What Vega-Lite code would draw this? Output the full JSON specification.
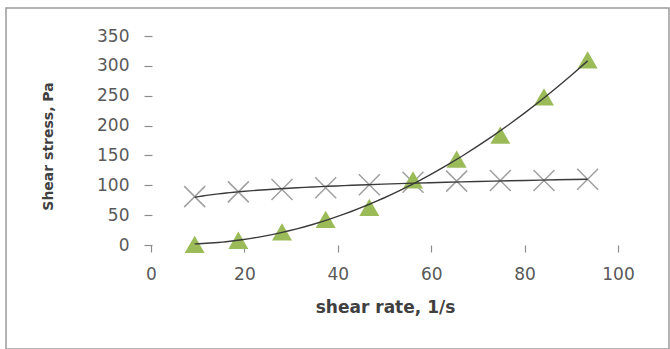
{
  "$schema": "https://vega.github.io/schema/vega-lite/v6.json",
  "width": 663,
  "height": 341,
  "padding": {"left": 6, "top": 8, "right": 1, "bottom": 0},
  "autosize": {"type": "none"},
  "background": "white",
  "config": {
    "view": {"stroke": "#9a9a9a", "strokeWidth": 1.5},
    "font": "DejaVu Sans"
  },
  "datasets": {
    "flow": [
      {"rate": 9.35, "series": "A", "stress": 81},
      {"rate": 18.7, "series": "A", "stress": 89},
      {"rate": 28.05, "series": "A", "stress": 93},
      {"rate": 37.4, "series": "A", "stress": 96},
      {"rate": 46.75, "series": "A", "stress": 101},
      {"rate": 56.1, "series": "A", "stress": 105},
      {"rate": 65.45, "series": "A", "stress": 107},
      {"rate": 74.8, "series": "A", "stress": 108},
      {"rate": 84.15, "series": "A", "stress": 108},
      {"rate": 93.5, "series": "A", "stress": 110},
      {"rate": 9.35, "series": "B", "stress": 1},
      {"rate": 18.7, "series": "B", "stress": 8},
      {"rate": 28.05, "series": "B", "stress": 22},
      {"rate": 37.4, "series": "B", "stress": 43},
      {"rate": 46.75, "series": "B", "stress": 63},
      {"rate": 56.1, "series": "B", "stress": 109},
      {"rate": 65.45, "series": "B", "stress": 144},
      {"rate": 74.8, "series": "B", "stress": 184},
      {"rate": 84.15, "series": "B", "stress": 248},
      {"rate": 93.5, "series": "B", "stress": 310}
    ]
  },
  "data": {"name": "flow"},
  "encoding": {
    "x": {
      "field": "rate",
      "type": "quantitative",
      "scale": {"domain": [-31.05, 110.92], "nice": false, "zero": false},
      "axis": {
        "values": [0, 20, 40, 60, 80, 100],
        "offset": -104,
        "domain": false,
        "grid": false,
        "tickSize": 7,
        "tickColor": "#8c8c8c",
        "tickWidth": 1.2,
        "labelFont": "DejaVu Sans",
        "labelFontSize": 17,
        "labelColor": "#595959",
        "labelBaseline": "middle",
        "labelPadding": 22,
        "labelFlush": false,
        "title": "shear rate, 1/s",
        "titleFont": "DejaVu Sans",
        "titleFontSize": 17,
        "titleFontWeight": "bold",
        "titleColor": "#404040",
        "titleX": 379,
        "titleY": 62,
        "titleAlign": "center",
        "titleBaseline": "middle"
      }
    },
    "y": {
      "field": "stress",
      "type": "quantitative",
      "scale": {"domain": [-174.2, 397], "nice": false, "zero": false},
      "axis": {
        "values": [0, 50, 100, 150, 200, 250, 300, 350],
        "offset": -146,
        "domain": false,
        "grid": false,
        "tickSize": 8,
        "tickColor": "#8c8c8c",
        "tickWidth": 1.2,
        "labelFont": "DejaVu Sans",
        "labelFontSize": 17,
        "labelColor": "#595959",
        "labelPadding": 15,
        "labelFlush": false,
        "title": "Shear stress, Pa",
        "titleFont": "DejaVu Sans",
        "titleFontSize": 14,
        "titleFontWeight": "bold",
        "titleColor": "#404040",
        "titleX": -104,
        "titleY": 138,
        "titleAlign": "center",
        "titleBaseline": "middle"
      }
    }
  },
  "layer": [
    {
      "data": {"values": [{}]},
      "mark": {"type": "rule", "color": "#8c8c8c", "strokeWidth": 1.2},
      "encoding": {
        "x": {"datum": 0},
        "x2": {"datum": 100},
        "y": {"datum": 0}
      }
    },
    {
      "data": {"values": [{}]},
      "mark": {"type": "rule", "color": "#8c8c8c", "strokeWidth": 1.2},
      "encoding": {
        "x": {"datum": 0},
        "y": {"datum": 0},
        "y2": {"datum": 350}
      }
    },
    {
      "transform": [{"filter": "datum.series === 'A'"}],
      "mark": {
        "type": "point",
        "shape": "M-1,-1L1,1M-1,1L1,-1",
        "filled": false,
        "size": 441,
        "stroke": "#a0a0a0",
        "strokeWidth": 1.5,
        "opacity": 1
      }
    },
    {
      "transform": [{"filter": "datum.series === 'B'"}],
      "mark": {
        "type": "point",
        "shape": "triangle-up",
        "filled": true,
        "size": 400,
        "color": "#9bbb59",
        "opacity": 1
      }
    },
    {
      "transform": [
        {"filter": "datum.series === 'A'"},
        {"regression": "stress", "on": "rate", "method": "log"}
      ],
      "mark": {"type": "line", "color": "#3a3a3a", "strokeWidth": 1.4}
    },
    {
      "transform": [
        {"filter": "datum.series === 'B'"},
        {"regression": "stress", "on": "rate", "method": "poly", "order": 2}
      ],
      "mark": {"type": "line", "color": "#3a3a3a", "strokeWidth": 1.4}
    }
  ]
}
